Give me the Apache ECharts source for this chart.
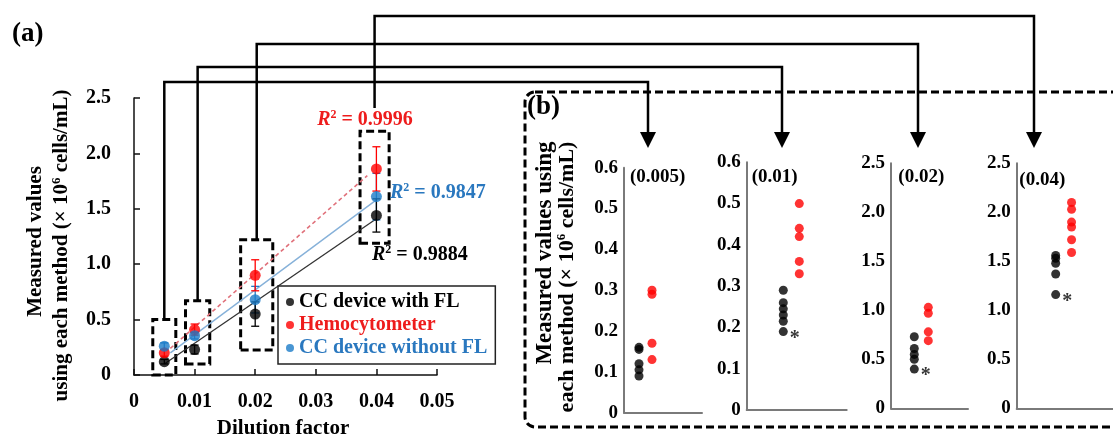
<!DOCTYPE html>
<html><head><meta charset="utf-8">
<script src="https://cdn.jsdelivr.net/npm/echarts@6/dist/echarts.min.js"></script>
<style>html,body{margin:0;padding:0;background:#fff}#c{width:1113px;height:434px}</style>
</head><body><div id="c"></div>
<script>
// ---------- data ----------
const dilutions = [0.005, 0.01, 0.02, 0.04];
const meanFL   = [0.12, 0.23, 0.55, 1.44];
const meanHemo = [0.20, 0.41, 0.90, 1.86];
const meanNoFL = [0.26, 0.355, 0.68, 1.61];
const errFL   = [0.02, 0.04, 0.11, 0.15];
const errHemo = [0.03, 0.05, 0.14, 0.20];
const errNoFL = [0.03, 0.03, 0.12, 0.21];
const trendFL   = [[0.005, 0.10], [0.04, 1.41]];
const trendHemo = [[0.006, 0.24], [0.0385, 1.80]];
const trendNoFL = [[0.006, 0.20], [0.04, 1.58]];
const r2FL = '0.9884', r2Hemo = '0.9996', r2NoFL = '0.9847';
const seriesNames = ['CC device with FL', 'Hemocytometer', 'CC device without FL'];
// individual measurements (panel b)
const fl005   = [0.16, 0.155, 0.12, 0.105, 0.09];
const hemo005 = [0.30, 0.29, 0.17, 0.13];
const fl01    = [0.29, 0.26, 0.245, 0.23, 0.215, 0.19];
const hemo01  = [0.50, 0.44, 0.42, 0.36, 0.33];
const fl02    = [0.73, 0.61, 0.55, 0.50, 0.40];
const hemo02  = [1.03, 0.97, 0.78, 0.69];
const fl04    = [1.56, 1.53, 1.48, 1.37, 1.16];
const hemo04  = [2.10, 2.03, 1.90, 1.85, 1.72, 1.59];
const significant = [false, true, true, true];
const yMaxB = [0.6, 0.6, 2.5, 2.5];
const yStepB = [0.1, 0.1, 0.5, 0.5];

// ---------- styling ----------
const SERIF = '"Liberation Serif", "DejaVu Serif", serif';
const BLACK = '#000', RED = '#ff0000', BLUE = '#1c7cc8';
const RED_T = '#ee1c1c', BLUE_T = '#2a78bf';
const GRAY = '#7a7a7a';

const chart = echarts.init(document.getElementById('c'));

const pairs = (xs, ys) => xs.map((x, i) => [x, ys[i]]);
const errData = (xs, m, e) => xs.map((x, i) => [x, m[i] - e[i], m[i] + e[i]]);
function errSeries(data, color) {
  return {
    type: 'custom', xAxisIndex: 0, yAxisIndex: 0, data, z: 3, silent: true,
    renderItem(params, api) {
      const x = api.value(0), lo = api.value(1), hi = api.value(2);
      const p1 = api.coord([x, lo]), p2 = api.coord([x, hi]);
      const w = 4, st = { stroke: color, lineWidth: 1.3 };
      return { type: 'group', children: [
        { type: 'line', shape: { x1: p1[0], y1: p1[1], x2: p2[0], y2: p2[1] }, style: st },
        { type: 'line', shape: { x1: p1[0] - w, y1: p1[1], x2: p1[0] + w, y2: p1[1] }, style: st },
        { type: 'line', shape: { x1: p2[0] - w, y1: p2[1], x2: p2[0] + w, y2: p2[1] }, style: st }
      ]};
    }
  };
}

const boxes = [
  [[0.0031, -0.06], [0.0069, 0.50]],
  [[0.0085, 0.10], [0.0125, 0.67]],
  [[0.0176, 0.225], [0.0229, 1.22]],
  [[0.0373, 1.19], [0.0421, 2.20]]
];
// connector start heights (value units) above each box
const connStart = [0.50, 0.67, 1.22, 2.41];

const gridsB = [
  { left: 624, top: 167.7, width: 78, height: 245, xmin: -0.1538, xmax: 5.846 },
  { left: 746.7, top: 162.3, width: 100, height: 247.7, xmin: -1.2875, xmax: 4.9625 },
  { left: 891, top: 163.3, width: 77, height: 245, xmin: -0.664, xmax: 4.836 },
  { left: 1016.7, top: 163.3, width: 97, height: 245, xmin: -1.456, xmax: 4.61 }
];
const flB = [fl005, fl01, fl02, fl04];
const hemoB = [hemo005, hemo01, hemo02, hemo04];

const fmtY = v => v === 0 ? '0' : v.toFixed(1);
const boldLabel = (size) => ({ fontFamily: SERIF, fontWeight: 'bold', fontSize: size, color: '#000' });

const grid = [{ left: 134, top: 98, width: 303, height: 277 }]
  .concat(gridsB.map(g => ({ left: g.left, top: g.top, width: g.width, height: g.height })));

const xAxis = [{
  type: 'value', gridIndex: 0, min: 0, max: 0.05, interval: 0.01,
  axisLine: { onZero: false, lineStyle: { color: '#111', width: 1.5 } },
  axisTick: { inside: true, length: 6, lineStyle: { color: '#111', width: 1.5 } },
  splitLine: { show: false },
  axisLabel: Object.assign(boldLabel(20), { margin: 17, formatter: v => v === 0 ? '0' : v.toFixed(2) })
}].concat(gridsB.map((g, i) => ({
  type: 'value', gridIndex: i + 1, min: g.xmin, max: g.xmax,
  axisLine: { onZero: false, lineStyle: { color: GRAY, width: 2 } },
  axisTick: { show: false }, axisLabel: { show: false }, splitLine: { show: false }
})));

const yAxis = [{
  type: 'value', gridIndex: 0, min: 0, max: 2.5, interval: 0.5,
  axisLine: { show: true, onZero: false, lineStyle: { color: '#111', width: 1.5 } },
  axisTick: { show: true, inside: true, length: 6, lineStyle: { color: '#111', width: 1.5 } },
  splitLine: { show: false },
  axisLabel: Object.assign(boldLabel(20), { margin: 23, formatter: fmtY })
}].concat(gridsB.map((g, i) => ({
  type: 'value', gridIndex: i + 1, min: 0, max: yMaxB[i], interval: yStepB[i],
  axisLine: { show: true, onZero: false, lineStyle: { color: GRAY, width: 2 } },
  axisTick: { show: false }, splitLine: { show: false },
  axisLabel: Object.assign(boldLabel(19), { margin: 6, formatter: fmtY })
})));

const series = [
  { name: 'trendFL', type: 'line', xAxisIndex: 0, yAxisIndex: 0, data: trendFL, symbol: 'none', silent: true, z: 2,
    lineStyle: { color: '#333', width: 1.3 } },
  { name: 'trendNoFL', type: 'line', xAxisIndex: 0, yAxisIndex: 0, data: trendNoFL, symbol: 'none', silent: true, z: 2,
    lineStyle: { color: '#86b1d9', width: 1.4 } },
  { name: 'trendHemo', type: 'line', xAxisIndex: 0, yAxisIndex: 0, data: trendHemo, symbol: 'none', silent: true, z: 2,
    lineStyle: { color: '#e0707a', width: 1.6, type: [4, 3] } },
  errSeries(errData(dilutions, meanNoFL, errNoFL), BLUE),
  errSeries(errData(dilutions, meanHemo, errHemo), RED),
  errSeries(errData(dilutions, meanFL, errFL), BLACK),
  { name: seriesNames[0], type: 'scatter', xAxisIndex: 0, yAxisIndex: 0, data: pairs(dilutions, meanFL),
    symbolSize: 11, itemStyle: { color: BLACK }, z: 5, clip: false,
    markArea: { silent: true, itemStyle: { color: 'rgba(0,0,0,0)', borderColor: '#000', borderWidth: 3, borderType: [8, 4] },
      data: boxes.map(b => [{ coord: b[0] }, { coord: b[1] }]) } },
  { name: seriesNames[1], type: 'scatter', xAxisIndex: 0, yAxisIndex: 0, data: pairs(dilutions, meanHemo),
    symbolSize: 11, itemStyle: { color: RED }, z: 5 },
  { name: seriesNames[2], type: 'scatter', xAxisIndex: 0, yAxisIndex: 0, data: pairs(dilutions, meanNoFL),
    symbolSize: 11, itemStyle: { color: BLUE }, z: 6 }
];

gridsB.forEach((g, i) => {
  const fl = flB[i];
  const minV = Math.min.apply(null, fl);
  series.push({
    name: 'b-fl-' + i, type: 'scatter', xAxisIndex: i + 1, yAxisIndex: i + 1, symbolSize: 9, z: 5,
    itemStyle: { color: BLACK },
    data: fl.map(v => {
      const it = { value: [1, v] };
      if (significant[i] && v === minV) {
        it.label = { show: true, formatter: '*', position: 'right', distance: 2, offset: [0, 7],
          fontFamily: SERIF, fontWeight: 'bold', fontSize: 20, color: '#000' };
      }
      return it;
    })
  });
  series.push({
    name: 'b-hemo-' + i, type: 'scatter', xAxisIndex: i + 1, yAxisIndex: i + 1, symbolSize: 9, z: 5,
    itemStyle: { color: RED }, data: hemoB[i].map(v => [2, v])
  });
});

function r2Text(x, y, val, color, align) {
  const base = { fontFamily: SERIF, fontWeight: 'bold', fontSize: 20, fill: color, lineHeight: 22 };
  return { type: 'text', x, y, z: 20, style: {
    text: '{i|R}{s|2}{n| = ' + val + '}', align, verticalAlign: 'middle',
    rich: { i: Object.assign({}, base, { fontStyle: 'italic' }),
            s: Object.assign({}, base, { fontSize: 12, lineHeight: 14, verticalAlign: 'top' }),
            n: base } } };
}
function tText(x, y, text, size, opts) {
  return Object.assign({ type: 'text', x, y, z: 20, style: Object.assign({
    text, fontFamily: SERIF, fontWeight: 'bold', fontSize: size, fill: '#000', align: 'left', verticalAlign: 'middle'
  }, (opts && opts.style) || {}) }, (opts && opts.el) || {});
}
function yNameRich(x, y, size, prefix) {
  const base = { fontFamily: SERIF, fontWeight: 'bold', fontSize: size, fill: '#000', lineHeight: size + 2 };
  return { type: 'text', x, y, rotation: Math.PI / 2, z: 20, style: {
    text: '{n|' + prefix + 'each method (\u00d7 10}{s|6}{n| cells/mL)}', align: 'center', verticalAlign: 'middle',
    rich: { n: base, s: Object.assign({}, base, { fontSize: Math.round(size * 0.6), lineHeight: Math.round(size * 0.7), verticalAlign: 'top' }) } } };
}

const baseGraphics = [
  tText(12, 34, '(a)', 27),
  tText(527, 107, '(b)', 27),
  tText(36, 241.5, 'Measured values', 21, { style: { align: 'center' }, el: { rotation: Math.PI / 2 } }),
  yNameRich(61.5, 245.5, 21, 'using '),
  tText(545, 253, 'Measured values using', 23, { style: { align: 'center' }, el: { rotation: Math.PI / 2 } }),
  yNameRich(567, 277, 22, ''),
  tText(283, 418, 'Dilution factor', 21, { style: { align: 'center', verticalAlign: 'top' } }),
  r2Text(365, 120, r2Hemo, RED_T, 'center'),
  r2Text(390, 193, r2NoFL, BLUE_T, 'left'),
  r2Text(372, 255, r2FL, '#000', 'left'),
  tText(630, 177, '(' + dilutions[0] + ')', 19),
  tText(751.7, 177, '(' + dilutions[1] + ')', 19),
  tText(898.3, 177, '(' + dilutions[2] + ')', 19),
  tText(1019.3, 180, '(' + dilutions[3] + ')', 19),
  { type: 'rect', z: 1, shape: { x: 525, y: 92, width: 640, height: 335, r: [10, 0, 0, 10] },
    style: { fill: 'none', stroke: '#000', lineWidth: 3, lineDash: [8, 4] }, silent: true }
];

chart.setOption({
  animation: false,
  backgroundColor: '#fff',
  grid, xAxis, yAxis, series,
  legend: {
    orient: 'vertical', left: 278, top: 286, icon: 'circle', itemWidth: 8, itemHeight: 8, itemGap: 3,
    padding: [6, 8, 6, 8], borderColor: '#222', borderWidth: 1.5, backgroundColor: '#fff', selectedMode: false,
    textStyle: { fontFamily: SERIF, fontWeight: 'bold', fontSize: 20, lineHeight: 20 },
    data: [
      { name: seriesNames[0], textStyle: { color: '#000' } },
      { name: seriesNames[1], textStyle: { color: RED_T } },
      { name: seriesNames[2], textStyle: { color: BLUE_T } }
    ]
  },
  graphic: baseGraphics
});

// connector lines from the boxes in (a) to the strip plots in (b)
const arrowX = [648, 782, 918, 1034];
const levelY = [82, 67, 44, 16];
const conn = [];
boxes.forEach((b, i) => {
  const p = chart.convertToPixel({ gridIndex: 0 }, [(b[0][0] + b[1][0]) / 2, connStart[i]]);
  conn.push({ type: 'polyline', z: 15, silent: true,
    shape: { points: [[p[0], p[1]], [p[0], levelY[i]], [arrowX[i], levelY[i]], [arrowX[i], 134]] },
    style: { stroke: '#000', lineWidth: 2.5, fill: null } });
  conn.push({ type: 'polygon', z: 15, silent: true,
    shape: { points: [[arrowX[i] - 8, 132], [arrowX[i] + 8, 132], [arrowX[i], 148]] },
    style: { fill: '#000' } });
});
chart.setOption({ graphic: baseGraphics.concat(conn) });
</script>
</body></html>
